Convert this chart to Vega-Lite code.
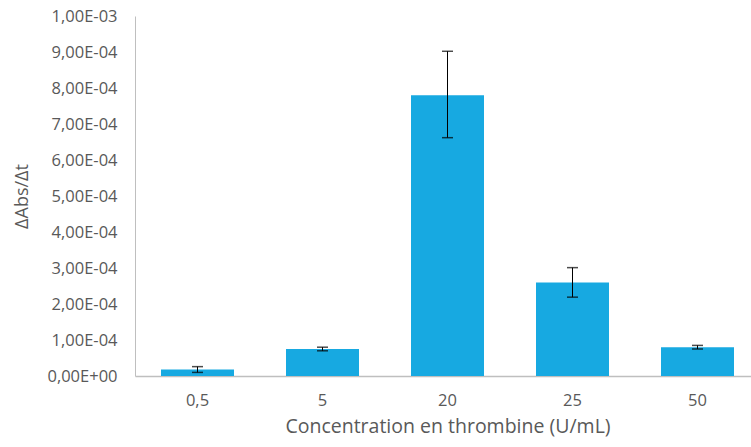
{
  "$schema": "https://vega.github.io/schema/vega-lite/v6.json",
  "width": 625,
  "height": 360,
  "autosize": {"type": "none"},
  "padding": {"left": 135, "top": 16, "right": 0, "bottom": 71},
  "background": "white",
  "config": {
    "view": {"stroke": null},
    "font": "Open Sans",
    "axis": {"labelFont": "Open Sans", "titleFont": "Open Sans", "labelColor": "#595959", "titleColor": "#595959", "titleFontWeight": "normal", "domainColor": "#BFBFBF", "grid": false, "ticks": false, "labelOverlap": false}
  },
  "data": {
    "values": [
      {"conc": "0,5", "value": 0.000018, "lo": 0.000010, "hi": 0.000026},
      {"conc": "5", "value": 0.000075, "lo": 0.000070, "hi": 0.000080},
      {"conc": "20", "value": 0.00078, "lo": 0.000662, "hi": 0.000902},
      {"conc": "25", "value": 0.00026, "lo": 0.000219, "hi": 0.000301},
      {"conc": "50", "value": 0.00008, "lo": 0.000075, "hi": 0.000085}
    ]
  },
  "encoding": {
    "x": {
      "field": "conc", "type": "nominal", "sort": null,
      "scale": {"paddingInner": 0.416, "paddingOuter": 0.208},
      "axis": {"title": "Concentration en thrombine (U/mL)", "labelAngle": 0, "labelFontSize": 16.5, "titleFontSize": 19.5, "labelPadding": 16, "titlePadding": 9, "domainWidth": 1.5}
    }
  },
  "layer": [
    {
      "mark": {"type": "bar", "color": "#17A9E1"},
      "encoding": {
        "y": {
          "field": "value", "type": "quantitative", "title": "ΔAbs/Δt",
          "scale": {"domain": [0, 0.001], "nice": false},
          "axis": {
            "values": [0, 0.0001, 0.0002, 0.0003, 0.0004, 0.0005, 0.0006, 0.0007, 0.0008, 0.0009, 0.001],
            "tickCount": 20,
            "labelOverlap": false,
            "labelFontSize": 16.5, "titleFontSize": 18, "labelPadding": 18,
            "titleX": -113, "titleY": 180, "titleBaseline": "middle",
            "labelExpr": "datum.value == 0 ? '0,00E+00' : replace(format(datum.value / pow(10, floor(log(datum.value) / LN10 + 1e-9)), '.2f'), '.', ',') + 'E' + (floor(log(datum.value) / LN10 + 1e-9) < 0 ? '-' : '+') + pad(toString(abs(floor(log(datum.value) / LN10 + 1e-9))), 2, '0', 'left')"
          }
        }
      }
    },
    {
      "mark": {"type": "rule", "color": "#000000", "strokeWidth": 1},
      "encoding": {
        "y": {"field": "lo", "type": "quantitative"},
        "y2": {"field": "hi"}
      }
    },
    {
      "mark": {"type": "tick", "color": "#000000", "size": 11, "thickness": 1.5, "orient": "horizontal"},
      "encoding": {
        "y": {"field": "lo", "type": "quantitative"}
      }
    },
    {
      "mark": {"type": "tick", "color": "#000000", "size": 11, "thickness": 1.5, "orient": "horizontal"},
      "encoding": {
        "y": {"field": "hi", "type": "quantitative"}
      }
    }
  ]
}
